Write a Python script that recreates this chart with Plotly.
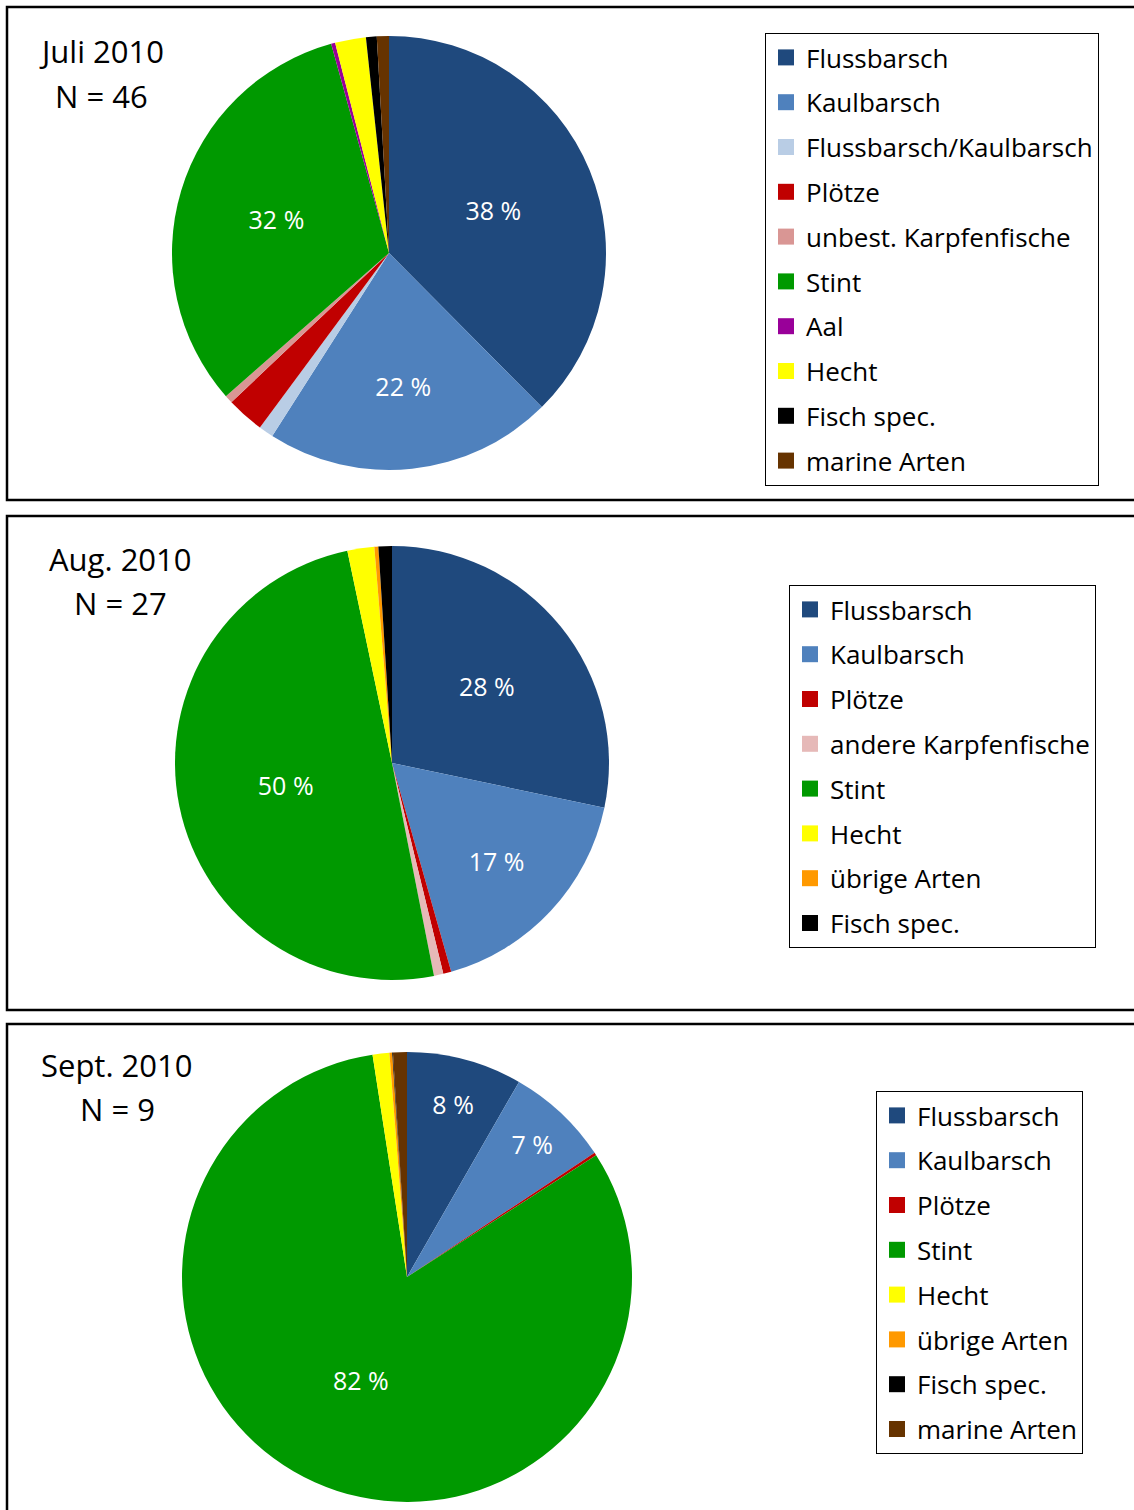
import plotly.graph_objects as go

W, H = 1134, 1510

# ---------------- data ----------------
juli_labels = ["Flussbarsch", "Kaulbarsch", "Flussbarsch/Kaulbarsch", "Plötze",
               "unbest. Karpfenfische", "Stint", "Aal", "Hecht", "Fisch spec.", "marine Arten"]
juli_values = [37.6, 21.5, 1.1, 2.8, 0.6, 32.2, 0.3, 2.3, 0.8, 0.9]
juli_colors = ["#1F497D", "#4F81BD", "#B9CDE5", "#C00000", "#D99694",
               "#009900", "#990099", "#FFFF00", "#000000", "#663300"]

aug_labels = ["Flussbarsch", "Kaulbarsch", "Plötze", "andere Karpfenfische",
              "Stint", "Hecht", "übrige Arten", "Fisch spec."]
aug_values = [28.3, 17.3, 0.6, 0.7, 49.8, 2.0, 0.3, 1.0]
aug_colors = ["#1F497D", "#4F81BD", "#C00000", "#E6B9B8",
              "#009900", "#FFFF00", "#FF9900", "#000000"]

sept_labels = ["Flussbarsch", "Kaulbarsch", "Plötze", "Stint", "Hecht",
               "übrige Arten", "Fisch spec.", "marine Arten"]
sept_values = [8.3, 7.4, 0.2, 81.7, 1.2, 0.2, 0.05, 1.0]
sept_colors = ["#1F497D", "#4F81BD", "#C00000", "#009900", "#FFFF00",
               "#FF9900", "#000000", "#663300"]

titles = [("Juli 2010", "N = 46"), ("Aug. 2010", "N = 27"), ("Sept. 2010", "N = 9")]

# ---------------- layout helpers ----------------
def px(x):
    return x / W

def py(y):
    return 1 - y / H

FONT = "Open Sans"

panels = [
    dict(labels=juli_labels, values=juli_values, colors=juli_colors,
         pie=(172, 36, 606, 470), legend=(765, 33), title=(101, 51, 96),
         box=(7, 7, 1150, 500), lname="legend"),
    dict(labels=aug_labels, values=aug_values, colors=aug_colors,
         pie=(175, 546, 609, 980), legend=(789, 585), title=(120, 559, 603),
         box=(7, 516, 1150, 1010), lname="legend2"),
    dict(labels=sept_labels, values=sept_values, colors=sept_colors,
         pie=(182, 1052, 632, 1502), legend=(876, 1091), title=(117, 1065, 1109),
         box=(7, 1024, 1150, 1530), lname="legend3"),
]

fig = go.Figure()
shapes = []
annotations = []
layout_legends = {}

for k, p in enumerate(panels):
    x0, y0, x1, y1 = p["pie"]
    text = [f"{round(v)} %" if v >= 5 else "" for v in p["values"]]
    fig.add_trace(go.Pie(
        labels=p["labels"], values=p["values"], sort=False, direction="clockwise",
        rotation=0, marker=dict(colors=p["colors"], line=dict(width=0)),
        text=text, textinfo="text", textposition="inside",
        insidetextorientation="horizontal",
        textfont=dict(family=FONT, size=25, color="white"),
        domain=dict(x=[px(x0), px(x1)], y=[py(y1), py(y0)]),
        showlegend=False, hoverinfo="label+percent",
    ))
    # legend entries
    for j, (lab, col) in enumerate(zip(p["labels"], p["colors"])):
        fig.add_trace(go.Scatter(
            x=[None], y=[None], mode="markers", name=lab,
            marker=dict(color=col, symbol="square", size=16),
            legend=p["lname"], legendgroup=f"g{k}_{j}", showlegend=True,
            hoverinfo="skip",
        ))
    lx, ly = p["legend"]
    layout_legends[p["lname"]] = dict(
        x=px(lx), y=py(ly), xanchor="left", yanchor="top",
        bordercolor="#000000", borderwidth=1, bgcolor="white",
        font=dict(family=FONT, size=26, color="#000000"),
        tracegroupgap=8.0, itemsizing="trace",
    )
    bx0, by0, bx1, by1 = p["box"]
    shapes.append(dict(type="rect", xref="paper", yref="paper",
                       x0=px(bx0), x1=px(bx1), y0=py(by1), y1=py(by0),
                       line=dict(color="black", width=2.5)))
    tx, t1, t2 = p["title"]
    for s, ty in zip(titles[k], (t1, t2)):
        annotations.append(dict(text=s, x=px(tx), y=py(ty), xref="paper", yref="paper",
                                xanchor="center", yanchor="middle", showarrow=False,
                                font=dict(family=FONT, size=31, color="black")))

fig.update_layout(
    width=W, height=H, margin=dict(l=0, r=0, t=0, b=0),
    paper_bgcolor="white", plot_bgcolor="white",
    xaxis=dict(visible=False, domain=[0, 0.01]),
    yaxis=dict(visible=False, domain=[0, 0.01]),
    shapes=shapes, annotations=annotations,
    **layout_legends,
)

fig.write_html(
    "out.html",
    config={"displayModeBar": False},
    post_script="document.body.style.margin='0';document.body.style.padding='0';"
                "document.body.style.overflow='hidden';",
)
